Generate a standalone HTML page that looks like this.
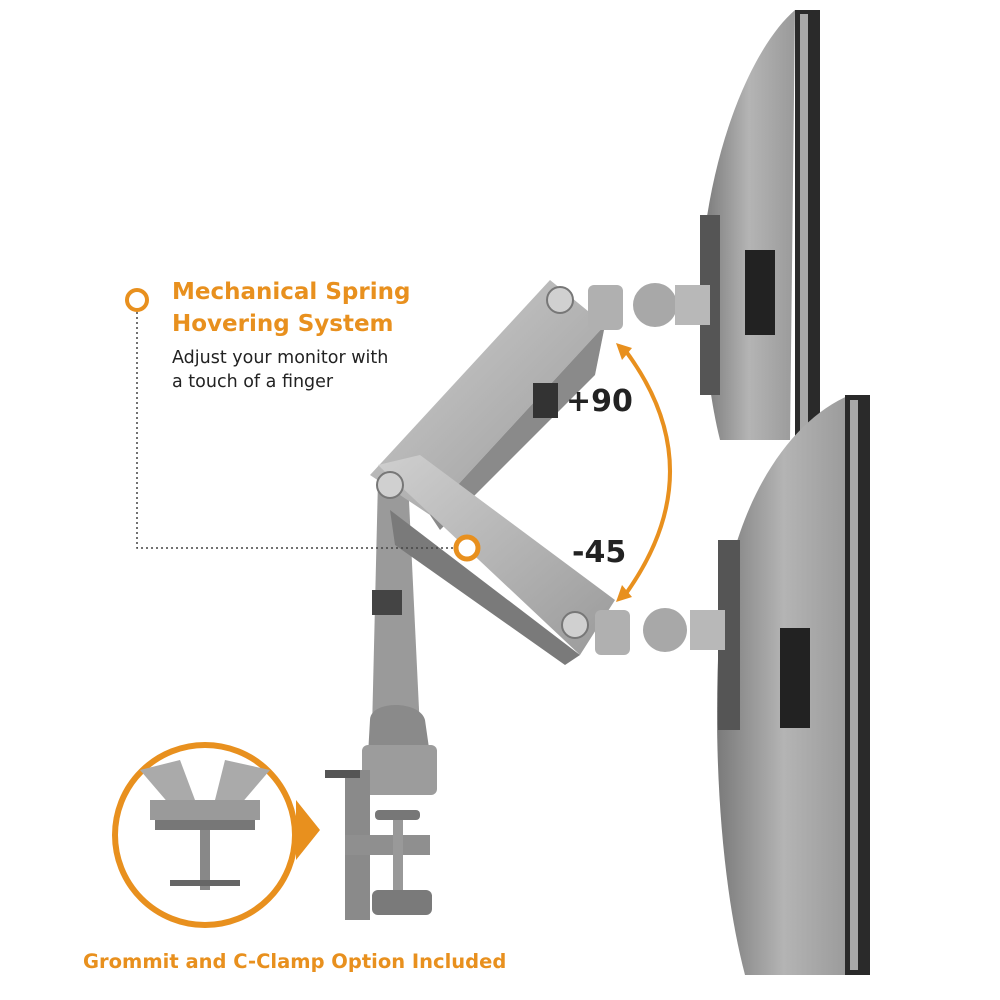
<!DOCTYPE html>
<html><head><meta charset="utf-8"><style>
html,body{margin:0;padding:0;background:#fff;}
svg{display:block;}
text{font-family:"DejaVu Sans","Liberation Sans",sans-serif;}
</style></head><body>
<svg width="1000" height="1000" viewBox="0 0 1000 1000" xmlns="http://www.w3.org/2000/svg">
<defs>
<linearGradient id="arm" x1="0" y1="0" x2="1" y2="1"><stop offset="0" stop-color="#cfcfcf"/><stop offset="1" stop-color="#9a9a9a"/></linearGradient>
<linearGradient id="mon" x1="0" y1="0" x2="1" y2="0"><stop offset="0" stop-color="#7a7a7a"/><stop offset="0.5" stop-color="#b4b4b4"/><stop offset="1" stop-color="#9a9a9a"/></linearGradient>
</defs>
<!-- top monitor -->
<path d="M795 10 C760 40 720 120 705 230 C700 300 705 380 720 440 L790 440 L795 10 Z" fill="url(#mon)"/>
<rect x="795" y="10" width="25" height="430" fill="#2a2a2a"/>
<rect x="800" y="14" width="8" height="420" fill="#a8a8a8"/>
<rect x="745" y="250" width="30" height="85" fill="#222"/>
<rect x="700" y="215" width="20" height="180" fill="#555"/>
<!-- bottom monitor -->
<path d="M850 395 C790 420 735 500 720 620 C712 740 720 880 745 975 L850 975 Z" fill="url(#mon)"/>
<rect x="845" y="395" width="25" height="580" fill="#2a2a2a"/>
<rect x="850" y="400" width="8" height="570" fill="#a8a8a8"/>
<rect x="780" y="628" width="30" height="100" fill="#222"/>
<rect x="718" y="540" width="22" height="190" fill="#555"/>
<!-- pole -->
<path d="M378 480 L408 480 L420 730 L372 730 Z" fill="#9a9a9a"/>
<rect x="372" y="590" width="30" height="25" fill="#444"/>
<path d="M370 720 C370 700 420 700 425 720 L430 755 L368 755 Z" fill="#8a8a8a"/>
<rect x="362" y="745" width="75" height="50" rx="6" fill="#9c9c9c"/>
<!-- clamp -->
<rect x="345" y="770" width="25" height="150" fill="#8a8a8a"/>
<rect x="325" y="770" width="35" height="8" fill="#555"/>
<rect x="345" y="835" width="85" height="20" fill="#8f8f8f"/>
<rect x="375" y="810" width="45" height="10" rx="4" fill="#777"/>
<rect x="393" y="820" width="10" height="75" fill="#999"/>
<rect x="372" y="890" width="60" height="25" rx="6" fill="#7a7a7a"/>
<!-- upper arm -->
<path d="M370 475 L550 280 L605 325 L430 515 Z" fill="url(#arm)"/>
<path d="M430 515 L605 325 L595 375 L440 530 Z" fill="#8a8a8a"/>
<rect x="533" y="383" width="25" height="35" fill="#333"/>
<!-- lower arm -->
<path d="M378 465 L420 455 L615 600 L580 655 Z" fill="url(#arm)"/>
<path d="M390 510 L580 655 L565 665 L395 545 Z" fill="#7a7a7a"/>
<circle cx="390" cy="485" r="13" fill="#d0d0d0" stroke="#777" stroke-width="2"/>
<circle cx="560" cy="300" r="13" fill="#d0d0d0" stroke="#777" stroke-width="2"/>
<circle cx="575" cy="625" r="13" fill="#d0d0d0" stroke="#777" stroke-width="2"/>
<!-- heads -->
<rect x="588" y="285" width="35" height="45" rx="6" fill="#b0b0b0"/>
<circle cx="655" cy="305" r="22" fill="#a8a8a8"/>
<rect x="675" y="285" width="35" height="40" fill="#b8b8b8"/>
<rect x="595" y="610" width="35" height="45" rx="6" fill="#b0b0b0"/>
<circle cx="665" cy="630" r="22" fill="#a8a8a8"/>
<rect x="690" y="610" width="35" height="40" fill="#b8b8b8"/>
<!-- labels -->
<circle cx="137" cy="300" r="10" fill="#fff" stroke="#e8901e" stroke-width="4"/>
<path d="M137 312 V548 H456" fill="none" stroke="#444" stroke-width="1.5" stroke-dasharray="2 3"/>
<circle cx="467" cy="548" r="11" fill="#fff" stroke="#e8901e" stroke-width="5"/>
<text x="172" y="299" font-size="23" font-weight="bold" fill="#e8901e">Mechanical Spring</text>
<text x="172" y="331" font-size="23" font-weight="bold" fill="#e8901e">Hovering System</text>
<text x="172" y="363" font-size="17.5" fill="#222">Adjust your monitor with</text>
<text x="172" y="387" font-size="17.5" fill="#222">a touch of a finger</text>
<path d="M625 350 Q715 470 625 595" fill="none" stroke="#e8901e" stroke-width="4"/>
<path d="M616 343 L632 348 L622 360 Z" fill="#e8901e"/>
<path d="M616 602 L632 597 L622 585 Z" fill="#e8901e"/>
<text x="566" y="411" font-size="30" font-weight="bold" fill="#222">+90</text>
<text x="572" y="562" font-size="30" font-weight="bold" fill="#222">-45</text>
<!-- inset -->
<circle cx="205" cy="835" r="90" fill="#fff" stroke="#e8901e" stroke-width="6"/>
<path d="M296 800 L320 830 L296 860 Z" fill="#e8901e"/>
<path d="M140 770 L180 760 L195 800 L170 805 Z" fill="#aaa"/>
<path d="M270 770 L225 760 L215 800 L240 805 Z" fill="#aaa"/>
<rect x="150" y="800" width="110" height="20" fill="#9a9a9a"/>
<rect x="155" y="820" width="100" height="10" fill="#777"/>
<rect x="200" y="830" width="10" height="60" fill="#888"/>
<rect x="170" y="880" width="70" height="6" fill="#666"/>
<text x="83" y="968" font-size="19.5" font-weight="bold" fill="#e8901e">Grommit and C-Clamp Option Included</text>
</svg>
</body></html>
